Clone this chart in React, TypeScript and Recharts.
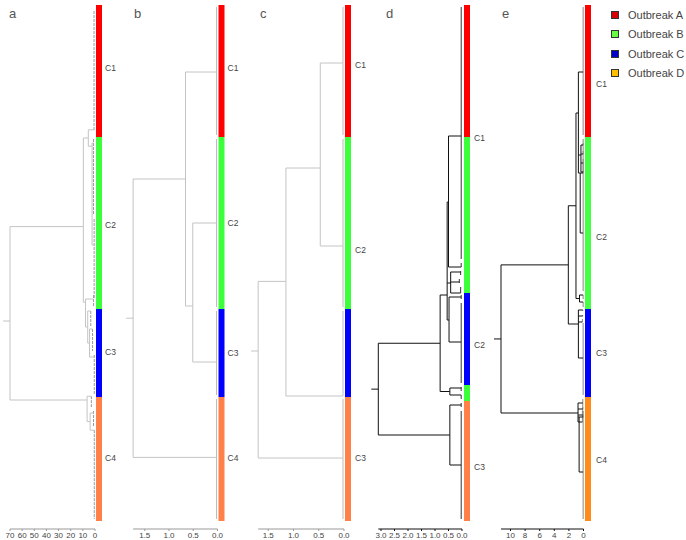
import React from 'react';
import { LineChart, Line, XAxis, YAxis, ReferenceArea, ReferenceLine, ReferenceDot } from 'recharts';

type Grp = { h: number; from: number; to: number; at: number };
type Nd = { h: number; at?: number; kids: Tree[] };
type Tree = Nd | Grp;
type Pt = { x: number; y: number | null };

const g = (h: number, from: number, to: number, at: number): Grp => ({ h, from, to, at });
const n = (h: number, kids: Tree[], at?: number): Nd => ({ h, kids, at });

const FONT = '"Liberation Sans", Arial, sans-serif';

const outbreaks = ['Outbreak A', 'Outbreak B', 'Outbreak C', 'Outbreak D'];
const legendFill = ['#d80000', '#66ff44', '#0000c8', '#ffc000'];
const barFill = ['#ff0000', '#3cff3c', '#0000ff', '#ff8049'];
const barFillE = ['#ff0000', '#44ff44', '#0000ff', '#ff8c1a'];

// leaf order of each dendrogram as runs of [outbreak, isolates]
const runsABCE = [[0, 33], [1, 43], [2, 22], [3, 31]];
const runsD = [[0, 33], [1, 39], [2, 23], [1, 4], [3, 30]];

const ticksA = [0, 10, 20, 30, 40, 50, 60, 70];
const ticksBC = [0, 0.5, 1, 1.5];
const ticksD = [0, 0.5, 1, 1.5, 2, 2.5, 3];
const ticksE = [0, 2, 4, 6, 8, 10];

const namesA = ['C1', 'C2', 'C3', 'C4'];
const posA = [15.75, 55, 86.75, 113.25];
const namesB = ['C1', 'C2', 'C3', 'C4'];
const posB = [15.75, 54.5, 87, 113.25];
const namesC = ['C1', 'C2', 'C3'];
const posC = [15, 61.25, 113.25];
const namesD = ['C1', 'C2', 'C3'];
const posD = [33.25, 85, 115.5];
const namesE = ['C1', 'C2', 'C3', 'C4'];
const posE = [19.75, 58, 87, 113.75];

// merge heights and attachment rows (in leaf units)
const treeA = n(70, [
  n(9.6, [
    n(5.5, [g(0.8, 1, 31, 31.2), n(2.4, [g(1.2, 33, 52, 34.5), g(0.7, 53, 73, 60)], 35.3)]),
    n(7.8, [g(1.2, 72, 75, 73.5), n(6, [g(3.5, 76, 80, 76.5), n(4.5, [g(2, 81, 86, 81), g(0.6, 87, 97, 88)])])], 74.3),
  ], 55.4),
  n(6.5, [g(3, 98, 100, 97.8), n(4, [g(1.2, 101, 105, 102), g(0.6, 106, 128, 106.3)])], 98.75),
], 79);

const treeB = n(1.74, [
  n(0.66, [g(0.02, 0, 32, 16.75), n(0.51, [g(0.02, 33, 75, 54.5), g(0.02, 76, 97, 89.25)], 75.25)], 43.5),
  g(0.02, 98, 128, 113.1),
]);

const treeC = n(1.7, [
  n(1.15, [n(0.47, [g(0.02, 0, 32, 14.5), g(0.02, 33, 75, 60.25)], 40.75), g(0.02, 76, 97, 97.75)], 69.1),
  g(0.02, 98, 128, 113.25),
], 86.5);

const treeD = n(3.1, [
  n(0.81, [
    n(0.55, [
      n(0.5, [g(0.03, 0, 63, 32.75), g(0.03, 64, 65, 65.5)], 49.25),
      n(0.42, [g(0.05, 66, 67, 66.75), g(0.1, 68, 69, 69.25), g(0.05, 70, 71, 72)], 69.5),
      n(0.48, [g(0.03, 72, 73, 73), g(0.03, 74, 94, 84.25)], 78.75),
    ], 72.5),
    n(0.45, [g(0.03, 95, 96, 95.75), g(0.03, 97, 98, 97.5)]),
  ]),
  n(0.45, [g(0.03, 99, 100, 100), g(0.03, 101, 128, 115)]),
]);

const treeE = n(11.3, [
  n(2.08, [
    n(1.03, [
      n(0.7, [
        g(0.05, 0, 32, 16.75),
        n(0.35, [g(0.05, 33, 33, 35), g(0.05, 34, 35, 37.25), g(0.05, 36, 37, 39.5), g(0.05, 38, 38, 41.75)], 37.5),
        n(0.45, [g(0.05, 39, 40, 42), g(0.05, 41, 71, 57)], 42),
      ], 27),
      n(0.55, [g(0.05, 72, 73, 72.5), g(0.05, 74, 75, 74.25)]),
    ]),
    n(0.7, [g(0.1, 76, 76, 76.25), g(0.1, 77, 77, 77.75), g(0.15, 78, 78, 79.25), g(0.05, 79, 97, 88.25)], 79.75),
  ]),
  n(0.75, [
    g(0.1, 98, 98, 99.5), g(0.1, 99, 99, 101), g(0.1, 100, 100, 102.5), g(0.15, 101, 101, 104.25),
    n(0.6, [g(0.05, 101, 101, 103), g(0.05, 102, 128, 116.75)], 103),
  ], 102),
]);

function walk(t: Tree, links: Pt[], leaves: Pt[]): number {
  if ('from' in t) {
    const lo = Math.min(t.from + 0.5, t.at);
    const hi = Math.max(t.to + 0.5, t.at);
    leaves.push({ x: t.h, y: lo }, { x: t.h, y: hi }, { x: t.h, y: null });
    return t.at;
  }
  const ys = t.kids.map((k) => walk(k, links, leaves));
  links.push({ x: t.h, y: Math.min(...ys) }, { x: t.h, y: Math.max(...ys) }, { x: t.h, y: null });
  t.kids.forEach((k, i) => links.push({ x: t.h, y: ys[i] }, { x: k.h, y: ys[i] }, { x: k.h, y: null }));
  return t.at ?? (ys[0] + ys[ys.length - 1]) / 2;
}

type Cfg = {
  left: number; width: number; zero: number; ppu: number;
  bar: [number, number]; labelPx: number;
  line: string; leaf: string; axis: string; dash?: string;
};

const H = 540;
const TOP = 5;
const AXIS_H = 11;
const Y_MAX = 131;

function Dendro({ cfg, tree, runs, fills, ticks, names, pos, fmt }: {
  cfg: Cfg; tree: Nd; runs: number[][]; fills: string[]; ticks: number[];
  names: string[]; pos: number[]; fmt: (v: number) => string;
}) {
  const links: Pt[] = [];
  const leaves: Pt[] = [];
  const rootY = walk(tree, links, leaves);
  const stub = 7 / cfg.ppu;
  links.push({ x: tree.h, y: rootY }, { x: tree.h + stub, y: rootY });
  const v = (px: number) => (cfg.zero - px) / cfg.ppu;
  const dmax = v(cfg.left);
  const dmin = v(cfg.left + cfg.width);
  let start = 0;
  const areas = runs.map(([o, c], i) => {
    const a = start;
    start += c;
    return (
      <ReferenceArea key={i} x1={v(cfg.zero + cfg.bar[0])} x2={v(cfg.zero + cfg.bar[1])} y1={a} y2={a + c}
        fill={fills[o]} fillOpacity={1} stroke="none" ifOverflow="visible" />
    );
  });
  return (
    <div style={{ position: 'absolute', left: cfg.left, top: 0 }}>
      <LineChart width={cfg.width} height={H} margin={{ top: TOP, right: 0, bottom: 0, left: 0 }}>
        <XAxis dataKey="x" type="number" reversed domain={[dmin, dmax]} allowDataOverflow ticks={ticks}
          interval={0} height={AXIS_H} axisLine={false} tickSize={2} tickMargin={1}
          tickLine={{ stroke: cfg.axis }} tickFormatter={fmt}
          tick={{ fontSize: 8, fill: '#444', fontFamily: FONT }} />
        <YAxis type="number" dataKey="y" hide reversed domain={[0, Y_MAX]} allowDataOverflow width={0} />
        {areas}
        <ReferenceLine segment={[{ x: tree.h, y: Y_MAX }, { x: 0, y: Y_MAX }]} stroke={cfg.axis} ifOverflow="visible" />
        <Line data={leaves} dataKey="y" type="linear" stroke={cfg.leaf} strokeDasharray={cfg.dash}
          strokeWidth={1} dot={false} activeDot={false} isAnimationActive={false} connectNulls={false} />
        <Line data={links} dataKey="y" type="linear" stroke={cfg.line} strokeWidth={1}
          dot={false} activeDot={false} isAnimationActive={false} connectNulls={false} />
        {names.map((nm, i) => (
          <ReferenceDot key={nm} x={v(cfg.labelPx)} y={pos[i]} r={0} stroke="none" fill="none" ifOverflow="visible"
            label={{ value: nm, position: 'right', offset: 0, fontSize: 8.5, fill: '#444', fontFamily: FONT }} />
        ))}
      </LineChart>
    </div>
  );
}

const cfgA: Cfg = { left: 0, width: 122, zero: 95, ppu: 85 / 70, bar: [1, 7], labelPx: 105, line: '#c4c4c4', leaf: '#999', axis: '#999', dash: '3 1' };
const cfgB: Cfg = { left: 122, width: 128, zero: 217.5, ppu: 48.5, bar: [1, 7], labelPx: 227.5, line: '#c4c4c4', leaf: '#bbb', axis: '#999' };
const cfgC: Cfg = { left: 250, width: 118, zero: 344, ppu: 50.5, bar: [1, 7], labelPx: 355, line: '#c4c4c4', leaf: '#bbb', axis: '#999' };
const cfgD: Cfg = { left: 368, width: 122, zero: 462, ppu: 27, bar: [2, 8], labelPx: 474, line: '#111', leaf: '#333', axis: '#111' };
const cfgE: Cfg = { left: 490, width: 125, zero: 583.5, ppu: 7.3, bar: [1.5, 7.5], labelPx: 596, line: '#111', leaf: '#888', axis: '#111' };

const one = (x: number) => x.toFixed(1);
const int = (x: number) => String(x);

const letters = [['a', 9], ['b', 134], ['c', 260], ['d', 386], ['e', 502]] as const;

export default function App() {
  return (
    <div style={{ position: 'absolute', left: 0, top: 0, width: 686, height: 540, background: '#fff', fontFamily: FONT, overflow: 'hidden' }}>
      {letters.map(([t, x]) => (
        <div key={t} style={{ position: 'absolute', left: x, top: 6, fontSize: 13, color: '#555' }}>{t}</div>
      ))}
      <Dendro cfg={cfgA} tree={treeA} runs={runsABCE} fills={barFill} ticks={ticksA} names={namesA} pos={posA} fmt={int} />
      <Dendro cfg={cfgB} tree={treeB} runs={runsABCE} fills={barFill} ticks={ticksBC} names={namesB} pos={posB} fmt={one} />
      <Dendro cfg={cfgC} tree={treeC} runs={runsABCE} fills={barFill} ticks={ticksBC} names={namesC} pos={posC} fmt={one} />
      <Dendro cfg={cfgD} tree={treeD} runs={runsD} fills={barFill} ticks={ticksD} names={namesD} pos={posD} fmt={one} />
      <Dendro cfg={cfgE} tree={treeE} runs={runsABCE} fills={barFillE} ticks={ticksE} names={namesE} pos={posE} fmt={int} />
      <div style={{ position: 'absolute', left: 611, top: 5 }}>
        {outbreaks.map((o, i) => (
          <div key={o} style={{ display: 'flex', alignItems: 'center', height: 19.5 }}>
            <span style={{ width: 6, height: 6, background: legendFill[i], border: '1px solid #333', marginRight: 9 }} />
            <span style={{ fontSize: 11, color: '#444' }}>{o}</span>
          </div>
        ))}
      </div>
    </div>
  );
}
